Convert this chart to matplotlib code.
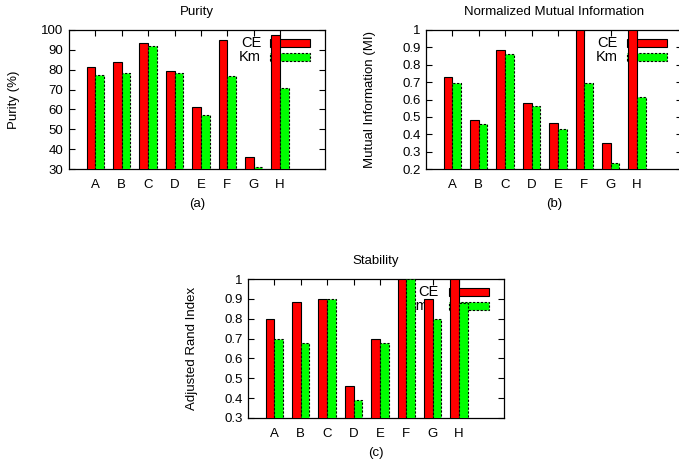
import numpy as np
import matplotlib.pyplot as plt
from matplotlib.patches import Rectangle

plt.rcParams['font.family'] = ['Liberation Sans', 'DejaVu Sans']
plt.rcParams['font.size'] = 9.5

# data
categories = ['A', 'B', 'C', 'D', 'E', 'F', 'G', 'H']
purity_ce = [81.5, 83.9, 93.5, 79.5, 61.1, 95.0, 36.0, 97.7]
purity_km = [77.3, 78.3, 92.1, 78.3, 57.2, 76.8, 30.8, 71.0]
nmi_ce = [0.73, 0.48, 0.883, 0.578, 0.463, 1.0, 0.35, 1.0]
nmi_km = [0.695, 0.457, 0.862, 0.565, 0.43, 0.695, 0.233, 0.613]
stab_ce = [0.80, 0.886, 0.90, 0.463, 0.70, 1.0, 0.90, 1.0]
stab_km = [0.70, 0.68, 0.90, 0.39, 0.68, 1.0, 0.80, 0.88]

red = '#ff0000'
green = '#00ff00'
w = 0.33

fig = plt.figure(figsize=(6.79, 4.66), dpi=100)

def panel(rect, ce, km, ylim, yticks, yticklabels, title, ylabel, caption, ylab_x, key_x=(0.75, 0.75)):
    ax = fig.add_axes(rect)
    x = np.arange(len(categories))
    ax.bar(x - w/2, ce, w, color=red, edgecolor='black', linewidth=0.8, zorder=3)
    ax.bar(x + w/2, km, w, color=green, edgecolor='black', linewidth=0.8, linestyle=(0, (2, 1.5)), zorder=3)
    ax.set_xlim(-1, 8.7)
    ax.set_ylim(*ylim)
    ax.set_yticks(yticks)
    ax.set_yticklabels(yticklabels)
    ax.set_xticks(x)
    ax.set_xticklabels(categories)
    ax.tick_params(direction='in', length=4, width=0.8, top=True, right=True, pad=4)
    ax.tick_params(axis='x', pad=7)
    for s in ax.spines.values():
        s.set_linewidth(0.9)
    ax.set_title(title, fontsize=9.5, pad=10.5)
    ax.set_ylabel(ylabel, fontsize=9.5)
    ax.yaxis.set_label_coords(ylab_x, 0.5)
    ax.text(0.5, -0.21, caption, transform=ax.transAxes, ha='center', va='top', fontsize=9.5)
    # key sits under the bars, like the original
    for i, (lab, col, ls) in enumerate([('CE', red, '-'), ('Km', green, (0, (2, 1.5)))]):
        yy = 0.906 - i * 0.1
        ax.text(key_x[i], yy, lab, transform=ax.transAxes, ha='right', va='center', fontsize=10.5, zorder=1)
        ax.add_patch(Rectangle((0.785, yy - 0.027), 0.156, 0.054, transform=ax.transAxes,
                               facecolor=col, edgecolor='black', linewidth=0.8, linestyle=ls, zorder=1))
    return ax

h = 139 / 466
wd = 256 / 679
panel([69/679, 297/466, wd, h], purity_ce, purity_km, (30, 100), range(30, 101, 10),
      [str(v) for v in range(30, 101, 10)], 'Purity', 'Purity (%)', '(a)', -0.19)
nmi_ticks = [0.2, 0.3, 0.4, 0.5, 0.6, 0.7, 0.8, 0.9, 1.0]
nmi_labels = ['0.2', '0.3', '0.4', '0.5', '0.6', '0.7', '0.8', '0.9', '1']
panel([426/679, 297/466, wd, h], nmi_ce, nmi_km, (0.2, 1.0), nmi_ticks, nmi_labels,
      'Normalized Mutual Information', 'Mutual Information (MI)', '(b)', -0.195)
st_ticks = [0.3, 0.4, 0.5, 0.6, 0.7, 0.8, 0.9, 1.0]
st_labels = ['0.3', '0.4', '0.5', '0.6', '0.7', '0.8', '0.9', '1']
panel([248/679, 48/466, wd, h], stab_ce, stab_km, (0.3, 1.0), st_ticks, st_labels,
      'Stability', 'Adjusted Rand Index', '(c)', -0.197, key_x=(0.745, 0.705))

fig.savefig('out.png', dpi=100)
